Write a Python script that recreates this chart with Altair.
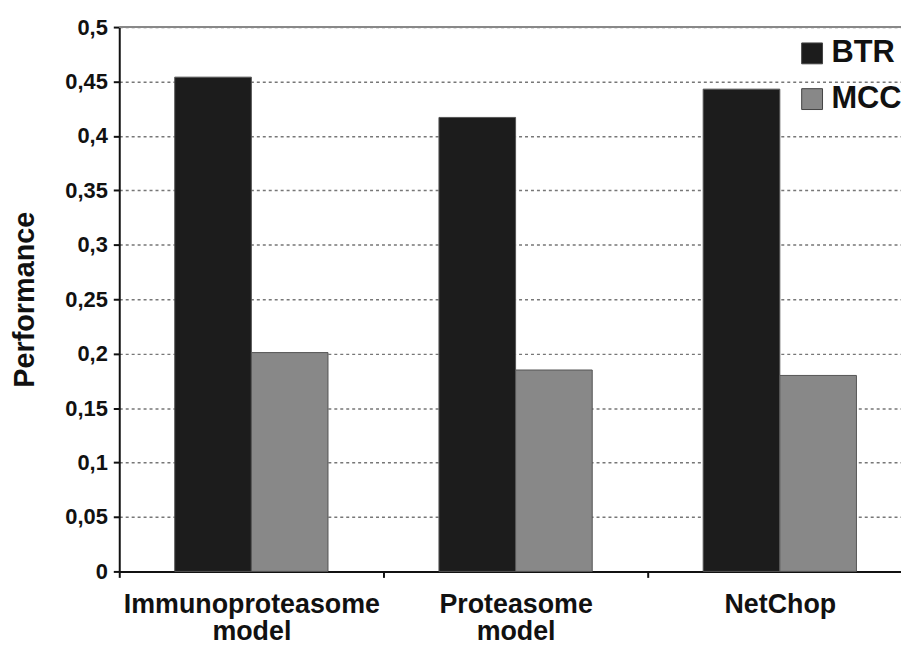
import altair as alt
import pandas as pd

categories = ["Immunoproteasome model", "Proteasome model", "NetChop"]
series = ["BTR", "MCC"]
btr = [0.454, 0.417, 0.443]
mcc = [0.201, 0.185, 0.180]
y_ticks = [0, 0.05, 0.1, 0.15, 0.2, 0.25, 0.3, 0.35, 0.4, 0.45, 0.5]
colors = ["#1c1c1c", "#888888"]

rows = []
for c, b, m in zip(categories, btr, mcc):
    rows.append({"cat": c, "series": "BTR", "value": b})
    rows.append({"cat": c, "series": "MCC", "value": m})
df = pd.DataFrame(rows)

FONT = "Liberation Sans"

bars = alt.Chart(df).mark_bar(stroke="#555555", strokeWidth=1).encode(
    x=alt.X(
        "cat:N",
        sort=categories,
        scale=alt.Scale(paddingInner=0, paddingOuter=0, range=[0, 798]),
        axis=alt.Axis(
            title=None,
            labelAngle=0,
            labelExpr="split(datum.label, ' ')",
            labelLimit=0,
            tickBand="extent",
            grid=False,
            domainColor="#111111",
            domainWidth=2,
            tickColor="#111111",
            tickWidth=2,
            tickSize=6,
            labelFont=FONT,
            labelFontWeight="bold",
            labelFontSize=27,
            labelColor="#111111",
            labelPadding=14,
            labelLineHeight=28,
            labelBaseline="top",
        ),
    ),
    xOffset=alt.XOffset(
        "series:N", sort=series, scale=alt.Scale(paddingOuter=0.724, paddingInner=0)
    ),
    y=alt.Y(
        "value:Q",
        scale=alt.Scale(domain=[0, 0.5], nice=False),
        axis=alt.Axis(
            values=y_ticks,
            labelExpr="replace(toString(datum.value), '.', ',')",
            title="Performance",
            titleFont=FONT,
            titleFontSize=29,
            titleFontWeight="bold",
            titleColor="#111111",
            titleAngle=-90,
            titleX=-95,
            titleY=274,
            titleAlign="center",
            titleBaseline="middle",
            labelFont=FONT,
            labelFontWeight="bold",
            labelFontSize=22,
            labelColor="#111111",
            labelPadding=6,
            domainColor="#111111",
            domainWidth=2,
            tickColor="#111111",
            tickWidth=2,
            tickSize=6,
            grid=True,
            gridColor="#777777",
            gridDash=[3, 3],
            gridWidth=1.5,
        ),
    ),
    color=alt.Color(
        "series:N",
        scale=alt.Scale(domain=series, range=colors),
        legend=alt.Legend(
            title=None,
            orient="none",
            legendX=682,
            legendY=11,
            symbolType="square",
            symbolSize=441,
            symbolStrokeColor="#444444",
            symbolStrokeWidth=1,
            labelFont=FONT,
            labelFontWeight="bold",
            labelFontSize=31,
            labelColor="#111111",
            labelOffset=4,
            rowPadding=14,
            padding=0,
        ),
    ),
)

top_rule = alt.Chart(pd.DataFrame({"y": [0.5]})).mark_rule(
    color="#888888", strokeWidth=2
).encode(y="y:Q")

chart = alt.layer(bars, top_rule).properties(
    width=787,
    height=548,
    autosize=alt.AutoSizeParams(type="none"),
    padding={"left": 112, "top": 17, "right": 0, "bottom": 90},
).configure_view(stroke=None)

chart.save("out.html", embed_options={"renderer": "svg", "actions": False})
